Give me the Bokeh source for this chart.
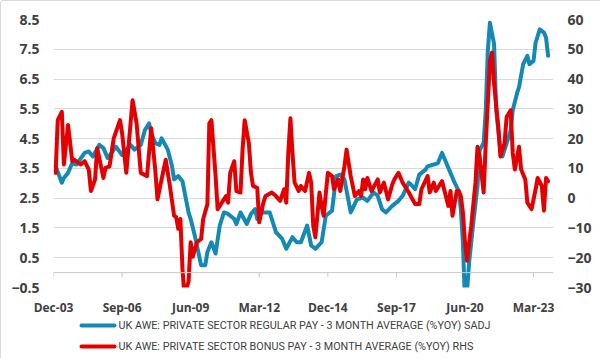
from datetime import datetime
import pandas as pd
from bokeh.plotting import figure
from bokeh.layouts import column
from bokeh.core.properties import value
from bokeh.models import (Range1d, LinearAxis, FixedTicker, Span,
                          ColumnDataSource, DatetimeTickFormatter)
from bokeh.embed import file_html
from bokeh.resources import INLINE

# ---------------- data ----------------
regular_dates = ["2004-01", "2004-04", "2004-05", "2004-07", "2004-09", "2004-11", "2005-03", "2005-05",
                 "2005-07", "2005-10", "2005-12", "2006-02", "2006-04", "2006-06", "2006-09", "2007-01",
                 "2007-03", "2007-06", "2007-08", "2007-10", "2007-11", "2008-01", "2008-03", "2008-04",
                 "2008-07", "2008-09", "2008-10", "2008-12", "2009-02", "2009-03", "2009-05", "2009-06",
                 "2009-08", "2009-10", "2009-11", "2010-01", "2010-02", "2010-04", "2010-06", "2010-08",
                 "2010-10", "2010-12", "2011-03", "2011-04", "2011-06", "2011-09", "2011-11", "2012-01",
                 "2012-02", "2012-04", "2012-08", "2012-11", "2013-02", "2013-04", "2013-07", "2013-09",
                 "2013-11", "2014-02", "2014-04", "2014-06", "2014-09", "2014-11", "2015-02", "2015-04",
                 "2015-06", "2015-08", "2015-11", "2016-02", "2016-05", "2016-07", "2016-10", "2016-12",
                 "2017-02", "2017-04", "2017-07", "2017-10", "2017-12", "2018-03", "2018-04", "2018-06",
                 "2018-08", "2018-11", "2018-12", "2019-03", "2019-05", "2019-07", "2019-09", "2019-11",
                 "2020-01", "2020-03", "2020-04", "2020-05", "2020-06", "2020-07", "2020-08", "2020-10",
                 "2020-12", "2021-01", "2021-03", "2021-04", "2021-05", "2021-06", "2021-08", "2021-09",
                 "2021-11", "2021-12", "2022-02", "2022-04", "2022-05", "2022-07", "2022-08", "2022-10",
                 "2022-12", "2023-01", "2023-03", "2023-04", "2023-06", "2023-08", "2023-09", "2023-10"]
regular_pct = [3.57, 3.02, 3.18, 3.35, 3.68, 3.63, 4.02, 4.07,
               3.90, 4.29, 4.18, 3.85, 4.02, 4.23, 3.95, 4.29,
               4.13, 4.29, 4.79, 5.01, 4.68, 4.35, 4.29, 4.51,
               4.13, 3.57, 3.13, 3.24, 3.07, 2.74, 2.02, 1.80,
               1.24, 0.58, 0.25, 0.25, 0.69, 1.02, 0.64, 1.58,
               2.02, 1.97, 1.80, 1.63, 2.02, 1.63, 1.97, 2.13,
               1.80, 2.02, 2.02, 1.36, 1.13, 0.80, 1.19, 1.02,
               1.02, 1.58, 0.91, 0.80, 1.02, 1.91, 2.08, 3.24,
               3.29, 3.13, 2.02, 2.46, 2.52, 2.41, 2.69, 2.58,
               2.13, 2.02, 2.24, 2.41, 2.58, 3.02, 2.96, 2.80,
               3.29, 3.46, 3.57, 3.63, 3.68, 4.02, 3.68, 3.35,
               3.02, 2.74, 2.13, 1.02, -1.00, -0.60, 0.36, 1.69,
               2.91, 4.12, 4.35, 5.45, 7.45, 8.39, 7.67, 5.45,
               4.12, 3.90, 4.35, 4.79, 5.45, 6.01, 6.23, 7.00,
               7.28, 7.00, 7.11, 7.72, 8.17, 8.06, 7.89, 7.28]

bonus_dates = ["2004-01", "2004-02", "2004-04", "2004-05", "2004-07", "2004-09", "2004-10", "2005-01",
               "2005-03", "2005-05", "2005-06", "2005-08", "2005-09", "2005-12", "2006-01", "2006-03",
               "2006-05", "2006-08", "2006-09", "2006-11", "2007-02", "2007-04", "2007-06", "2007-09",
               "2007-11", "2008-01", "2008-02", "2008-04", "2008-06", "2008-08", "2008-10", "2008-11",
               "2008-12", "2009-01", "2009-02", "2009-03", "2009-05", "2009-06", "2009-07", "2009-09",
               "2009-11", "2009-12", "2010-02", "2010-03", "2010-04", "2010-06", "2010-07", "2010-08",
               "2010-10", "2010-11", "2010-12", "2011-01", "2011-03", "2011-04", "2011-06", "2011-07",
               "2011-08", "2011-10", "2011-11", "2011-12", "2012-02", "2012-03", "2012-05", "2012-06",
               "2012-09", "2012-11", "2013-01", "2013-03", "2013-04", "2013-05", "2013-06", "2013-07",
               "2013-08", "2013-10", "2013-11", "2014-01", "2014-03", "2014-04", "2014-05", "2014-06",
               "2014-08", "2014-09", "2014-10", "2014-12", "2015-02", "2015-03", "2015-05", "2015-06",
               "2015-08", "2015-09", "2015-11", "2016-01", "2016-03", "2016-04", "2016-05", "2016-06",
               "2016-07", "2016-09", "2016-12", "2017-01", "2017-03", "2017-05", "2017-07", "2017-08",
               "2017-10", "2017-12", "2018-03", "2018-06", "2018-08", "2018-09", "2018-12", "2019-01",
               "2019-03", "2019-04", "2019-07", "2019-10", "2019-11", "2019-12", "2020-02", "2020-03",
               "2020-04", "2020-05", "2020-06", "2020-07", "2020-08", "2020-09", "2020-11", "2020-12",
               "2021-01", "2021-03", "2021-04", "2021-06", "2021-07", "2021-08", "2021-10", "2021-11",
               "2022-01", "2022-02", "2022-04", "2022-05", "2022-06", "2022-08", "2022-09", "2022-11",
               "2022-12", "2023-02", "2023-04", "2023-05", "2023-07", "2023-08", "2023-09", "2023-10"]
bonus_pct = [8.5, 26.2, 29.0, 11.3, 24.6, 12.4, 12.9, 11.3,
             12.4, 9.6, 2.4, 6.3, 16.8, 6.8, 10.2, 10.7,
             20.1, 26.2, 21.8, 8.5, 32.9, 25.1, 8.5, 7.4,
             23.5, 9.0, -0.4, 6.3, 12.9, 4.1, -5.9, -6.4,
             -10.3, -7.0, -23.6, -33.0, -28.0, -14.8, -19.7, -14.8,
             -13.7, -7.0, -2.0, 25.1, 26.2, 7.4, -3.7, -2.6,
             -0.4, 0.7, -1.5, 8.5, 12.4, 2.4, 1.9, 16.3,
             26.2, 18.5, 8.5, 4.1, 3.5, -8.1, -1.5, 0.7,
             1.9, 0.7, -0.9, 3.0, -1.5, 15.2, 26.8, 15.2,
             5.2, 2.4, 4.1, 2.4, 8.5, 5.2, -9.2, -13.1,
             1.9, -2.6, -5.9, 8.5, 7.4, 3.0, 6.3, 2.4,
             10.7, 16.3, 7.4, 0.7, 2.4, 0.7, 6.3, 3.0,
             6.8, 2.4, 6.3, 1.9, 5.2, -0.4, 4.6, 6.3,
             8.5, 5.2, 1.9, -2.0, -2.0, 3.0, 7.4, 1.9,
             5.2, 2.4, 5.7, -2.6, 2.4, -5.9, 2.4, 2.4,
             0.7, -4.8, -15.0, -21.0, -14.8, -9.2, 5.2, 17.3,
             14.0, 1.9, 18.5, 46.1, 48.9, 38.4, 24.0, 14.0,
             18.5, 27.3, 29.5, 15.2, 9.6, 17.3, 9.6, 6.3,
             -1.5, -3.7, 3.0, 6.8, 4.1, -4.2, 6.8, 5.7]

tick_dates = ["2003-12", "2006-09", "2009-06", "2012-03", "2014-12", "2017-09", "2020-06", "2023-03"]
tick_labels = ["Dec-03", "Sep-06", "Jun-09", "Mar-12", "Dec-14", "Sep-17", "Jun-20", "Mar-23"]
left_ticks = [-0.5, 0.5, 1.5, 2.5, 3.5, 4.5, 5.5, 6.5, 7.5, 8.5]
right_ticks = [-30, -20, -10, 0, 10, 20, 30, 40, 50, 60]

series_names = ["UK AWE: PRIVATE SECTOR REGULAR PAY - 3 MONTH AVERAGE (%YOY) SADJ",
                "UK AWE: PRIVATE SECTOR BONUS PAY - 3 MONTH AVERAGE (%YOY) RHS"]

# ---------------- styling ----------------
BLUE = "#1589b6"
RED = "#e40000"
TXT = "#404040"
GRID = "#d9d9d9"
AXFONT = "Open Sans"

reg_src = ColumnDataSource(dict(x=pd.to_datetime(regular_dates), y=regular_pct))
bon_src = ColumnDataSource(dict(x=pd.to_datetime(bonus_dates), y=bonus_pct))

p = figure(width=600, height=317, x_axis_type="datetime",
           x_range=Range1d(datetime(2003, 12, 1), datetime(2023, 12, 19)),
           y_range=Range1d(-0.5, 8.5),
           output_backend="svg", toolbar_location=None,
           min_border_left=52, min_border_right=48, min_border_top=18, min_border_bottom=28)
p.outline_line_color = None
p.background_fill_color = "white"
p.border_fill_color = "white"

p.extra_y_ranges = {"rhs": Range1d(-30, 60)}

# grid
p.xgrid.grid_line_color = None
p.ygrid.grid_line_color = GRID
p.ygrid.grid_line_width = 1

# left axis
yax = p.yaxis[0]
yax.ticker = FixedTicker(ticks=left_ticks)
yax.axis_line_color = None
yax.major_tick_line_color = None
yax.minor_tick_line_color = None
yax.major_tick_out = 0
yax.major_label_standoff = 14
yax.major_label_text_font = AXFONT
yax.major_label_text_font_style = "bold"
yax.major_label_text_font_size = "14px"
yax.major_label_text_color = TXT

# right axis
rax = LinearAxis(y_range_name="rhs", ticker=FixedTicker(ticks=right_ticks))
rax.axis_line_color = None
rax.major_tick_line_color = None
rax.minor_tick_line_color = None
rax.major_tick_out = 0
rax.major_label_standoff = 14
rax.major_label_text_font = AXFONT
rax.major_label_text_font_style = "bold"
rax.major_label_text_font_size = "14px"
rax.major_label_text_color = TXT
p.add_layout(rax, "right")

# bottom axis (labels only)
tick_ms = [pd.Timestamp(d).value // 10**6 for d in tick_dates]
xax = p.xaxis[0]
xax.ticker = FixedTicker(ticks=tick_ms)
xax.formatter = DatetimeTickFormatter(days="%b-%y", months="%b-%y", years="%b-%y")
xax.major_label_overrides = {t: lab for t, lab in zip(tick_ms, tick_labels)}
xax.axis_line_color = None
xax.major_tick_line_color = None
xax.minor_tick_line_color = None
xax.major_tick_out = 0
xax.major_label_standoff = 11
xax.major_label_text_font = AXFONT
xax.major_label_text_font_style = "bold"
xax.major_label_text_font_size = "12px"
xax.major_label_text_color = TXT

# category axis line at zero with tick marks
p.add_layout(Span(location=0, dimension="width", line_color="#c8c8c8", line_width=1))
p.segment(x0=pd.to_datetime(tick_dates), y0=0, x1=pd.to_datetime(tick_dates), y1=-0.15,
          line_color="#c8c8c8", line_width=1)

# series
r1 = p.line("x", "y", source=reg_src, line_color=BLUE, line_width=4, line_join="round", line_cap="round")
r2 = p.line("x", "y", source=bon_src, y_range_name="rhs", line_color=RED, line_width=4,
            line_join="round", line_cap="round")

# ---------------- legend strip below ----------------
# its frame is aligned with the main frame by the column layout (52..552 px)
lg = figure(width=600, height=41, x_range=Range1d(52, 552), y_range=Range1d(41, 0),
            x_axis_location=None, y_axis_location=None,
            output_backend="svg", toolbar_location=None,
            min_border_left=52, min_border_right=48, min_border_top=0, min_border_bottom=0)
lg.grid.visible = False
lg.outline_line_color = None
lg.background_fill_color = "white"
lg.border_fill_color = "white"

row_y = [7, 28]
lg.segment(x0=[80, 80], y0=row_y, x1=[113, 113], y1=row_y,
           line_color=[BLUE, RED], line_width=4, line_cap="round")
lg.text(x=[117, 117], y=row_y, text=series_names,
        text_font=value("Roboto"), text_font_size="10.8px", text_color=TXT,
        text_baseline="middle", text_align="left")

layout = column(p, lg, spacing=0,
                styles={"border": "1px solid #d9d9d9", "border-radius": "3px"})
open("out.html", "w").write(file_html(layout, INLINE))
